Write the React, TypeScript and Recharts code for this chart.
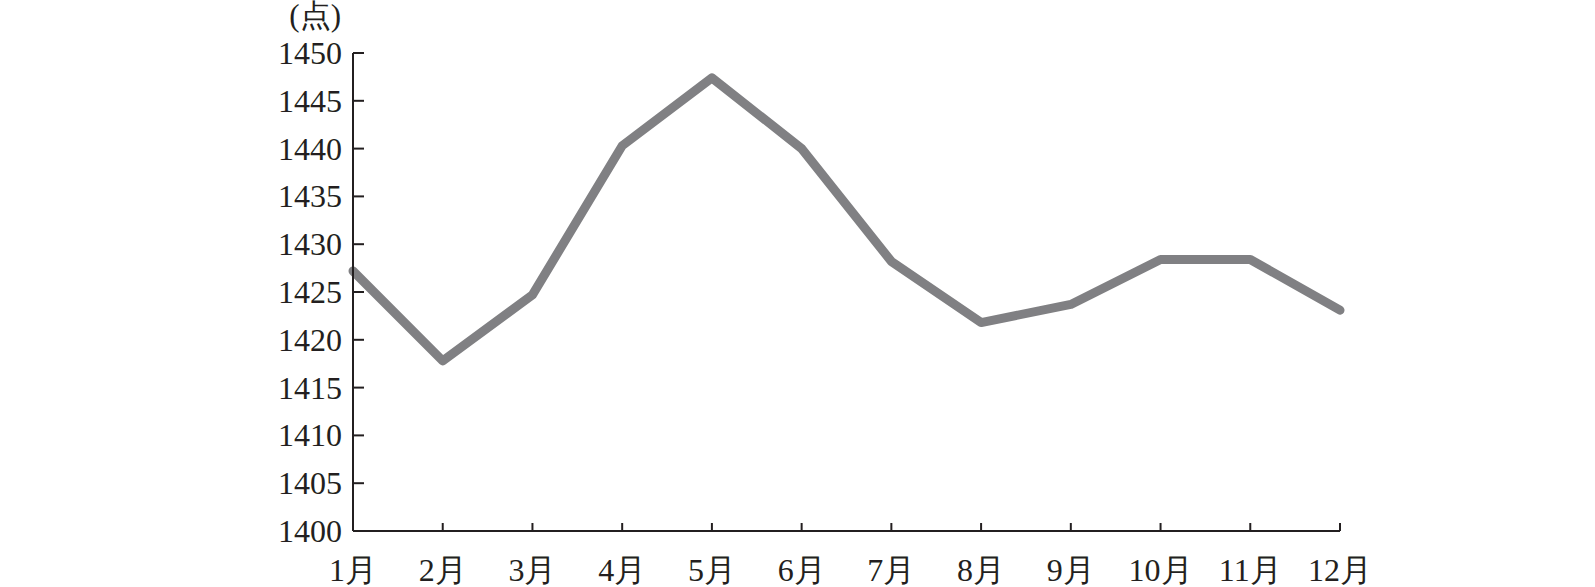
import React from 'react';
import { LineChart, Line, XAxis, YAxis } from 'recharts';

const months = ['1月', '2月', '3月', '4月', '5月', '6月', '7月', '8月', '9月', '10月', '11月', '12月'];
const points = [1427.2, 1417.8, 1424.7, 1440.3, 1447.4, 1440.0, 1428.2, 1421.8, 1423.7, 1428.4, 1428.4, 1423.1];
const yTicks = [1400, 1405, 1410, 1415, 1420, 1425, 1430, 1435, 1440, 1445, 1450];
const unitLabel = '(点)';

const data = months.map((m, i) => ({ month: m, value: points[i] }));

const FONT = 'Liberation Serif';
const INK = '#231f20';

const YTick = (props: any) => {
  const { x, y, payload } = props;
  return (
    <g>
      <line x1={x} y1={y} x2={x + 11} y2={y} stroke={INK} strokeWidth={2} />
      <text x={x - 11} y={y + 11} textAnchor="end" fontSize={32} style={{ fontFamily: FONT }} fill={INK}>
        {payload.value}
      </text>
    </g>
  );
};

const XTick = (props: any) => {
  const { x, y, payload } = props;
  return (
    <g>
      <line x1={x} y1={y} x2={x} y2={y - 8} stroke={INK} strokeWidth={2} />
      <text x={x} y={y + 50} textAnchor="middle" fontSize={32} style={{ fontFamily: FONT }} fill={INK}>
        {payload.value}
      </text>
    </g>
  );
};

export default function App() {
  return (
    <div style={{ position: 'absolute', left: 0, top: 0, width: 1595, height: 587, background: '#fff' }}>
      <div
        style={{
          position: 'absolute',
          left: 250,
          width: 91,
          top: -2,
          textAlign: 'right',
          fontFamily: FONT,
          fontSize: 31,
          color: INK,
          lineHeight: '36px',
        }}
      >
        {unitLabel}
      </div>
      <LineChart width={1595} height={587} data={data} margin={{ top: 53, right: 255, bottom: 0, left: 253 }}>
        <XAxis
          dataKey="month"
          scale="point"
          padding={{ left: 0, right: 0 }}
          height={56}
          axisLine={{ stroke: INK, strokeWidth: 2 }}
          tickLine={false}
          tickSize={0}
          tickMargin={0}
          tick={<XTick />}
          interval={0}
        />
        <YAxis
          domain={[1400, 1450]}
          ticks={yTicks}
          width={100}
          axisLine={{ stroke: INK, strokeWidth: 2 }}
          tickLine={false}
          tickSize={0}
          tickMargin={0}
          tick={<YTick />}
          interval={0}
        />
        <Line
          type="linear"
          dataKey="value"
          stroke="#808083"
          strokeWidth={9}
          strokeLinecap="round"
          strokeLinejoin="round"
          dot={false}
          activeDot={false}
          isAnimationActive={false}
        />
      </LineChart>
    </div>
  );
}
